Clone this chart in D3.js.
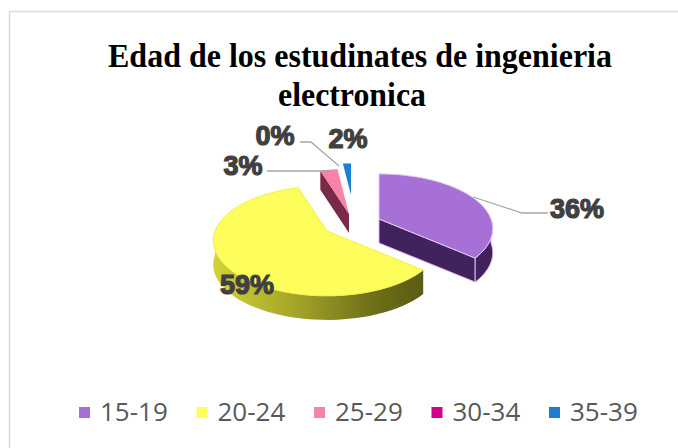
<!DOCTYPE html>
<html><head><meta charset="utf-8">
<script src="https://cdn.jsdelivr.net/npm/d3@7"></script>
<style>html,body{margin:0;padding:0;background:#fff}svg{display:block}</style></head>
<body><svg id="c" width="678" height="448"></svg>
<script>
const titleLines = ["Edad de los estudinates de ingenieria", "electronica"];
const categories = ["15-19", "20-24", "25-29", "30-34", "35-39"];
const values = [36, 59, 3, 0, 2];
const labels = ["36%", "59%", "3%", "0%", "2%"];
const colors = ["#a66fd6", "#fdfd5c", "#f982a8", "#d6008f", "#1a7fd2"];
const wallColors = ["#40205c", "#8e8e22", "#7a2b48", "#70004c", "#0d4a80"];
const centers = [[379, 219], [327, 231], [349, 214], [351, 212], [351, 195]];
const radii = [1, 1, 1, 1, 0.7];
const depths = [24, 24, 19, 0, 0];
const labelPos = [[577, 208], [247, 284], [243, 165], [275, 135], [348, 138]];
const leaders = [
  [[473, 197], [522, 213], [548, 213]],
  null,
  [[267, 171], [330, 171]],
  [[300, 142], [311, 142], [339, 166]],
  null
];

const svg = d3.select("#c");
const RX = 112, RY = 55, K = 0.18;
const project = (c, a, z, r) => {
  const f = (1 - K * Math.cos(a)) * r;
  return [c[0] + RX * Math.sin(a) * f, c[1] - RY * Math.cos(a) * f + z];
};

const defs = svg.append("defs");
defs.append("filter").attr("id", "soft").attr("x", "-5%").attr("y", "-5%").attr("width", "110%").attr("height", "110%")
  .append("feGaussianBlur").attr("stdDeviation", 0.5);
const g1 = defs.append("linearGradient").attr("id", "yw");
[[0, "#d2d238"], [0.4, "#a3a32a"], [0.75, "#6f7018"], [1, "#5a5c14"]].forEach(s =>
  g1.append("stop").attr("offset", s[0]).attr("stop-color", s[1]));

// frame
svg.append("path").attr("d", "M9.5 448V11.5H678").attr("fill", "none").attr("stroke", "#dcdcdc").attr("stroke-width", 1.5);

// title
const titleX = [360, 352], titleW = [504, 148];
const title = svg.append("g").attr("font-family", "'Liberation Serif'").attr("font-weight", "bold")
  .attr("font-size", 34).attr("text-anchor", "middle").attr("fill", "#000");
titleLines.forEach((t, i) => title.append("text").attr("x", titleX[i]).attr("y", 67 + i * 39)
  .attr("textLength", titleW[i]).attr("lengthAdjust", "spacingAndGlyphs").text(t));

// pie
const arcs = d3.pie().sort(null).value(d => d)(values);
const line = d3.line();
const pieG = svg.append("g").attr("filter", "url(#soft)");
const order = [2, 3, 4, 0, 1];
order.forEach(i => {
  const a = arcs[i], c = centers[i], r = radii[i], DEPTH = depths[i];
  if (a.endAngle - a.startAngle === 0) return;
  const sample = (a0, a1, z) => d3.range(0, 41).map(k => project(c, a0 + (a1 - a0) * k / 40, z, r));
  const g = pieG.append("g");
  const wall = i === 1 ? "url(#yw)" : wallColors[i];
  const edge = i === 0 ? "#d9b8f0" : "none";
  const face = ang => {
    const p = project(c, ang, 0, r), q = project(c, ang, DEPTH, r);
    g.append("path").attr("d", line([c, p, q, [c[0], c[1] + DEPTH]]) + "Z").attr("fill", wall)
      .attr("stroke", edge).attr("stroke-width", 1);
  };
  if (DEPTH > 0) {
    if (Math.sin(a.startAngle) < -1e-6) face(a.startAngle);
    if (Math.sin(a.endAngle) > 1e-6) face(a.endAngle);
    const lo = Math.max(a.startAngle, Math.PI / 2), hi = Math.min(a.endAngle, 3 * Math.PI / 2);
    if (hi > lo) {
      g.append("path").attr("d", line(sample(lo, hi, 0).concat(sample(hi, lo, DEPTH))) + "Z").attr("fill", wall)
        .attr("stroke", edge).attr("stroke-width", 1);
    }
  }
  g.append("path").attr("d", line([c].concat(sample(a.startAngle, a.endAngle, 0))) + "Z").attr("fill", colors[i])
    .attr("stroke", i === 0 ? "#e3c8f5" : (i === 1 ? "#f0f04e" : "none")).attr("stroke-width", 1);
});

// leader lines
svg.append("g").selectAll("path").data(leaders.filter(Boolean)).join("path")
  .attr("d", d => line(d)).attr("fill", "none").attr("stroke", "#a6a6a6").attr("stroke-width", 1.3);

// data labels
svg.append("g").attr("font-family", "'Liberation Sans'").attr("font-weight", "bold").attr("font-size", 27)
  .attr("text-anchor", "middle").attr("fill", "#404040").attr("stroke", "#404040").attr("stroke-width", 1.2)
  .selectAll("text").data(labels).join("text")
  .attr("x", (d, i) => labelPos[i][0]).attr("y", (d, i) => labelPos[i][1] + 9.5).text(d => d);

// legend
const xLegend = d3.scalePoint().domain(categories).range([79, 549]);
const lg = svg.append("g").selectAll("g").data(categories).join("g")
  .attr("transform", d => `translate(${xLegend(d)},0)`);
lg.append("rect").attr("y", 407).attr("width", 11).attr("height", 11).attr("fill", (d, i) => colors[i]);
lg.append("text").attr("x", 21).attr("y", 421).attr("font-family", "'Open Sans'").attr("font-size", 26)
  .attr("fill", "#595959").text(d => d);
</script></body></html>
